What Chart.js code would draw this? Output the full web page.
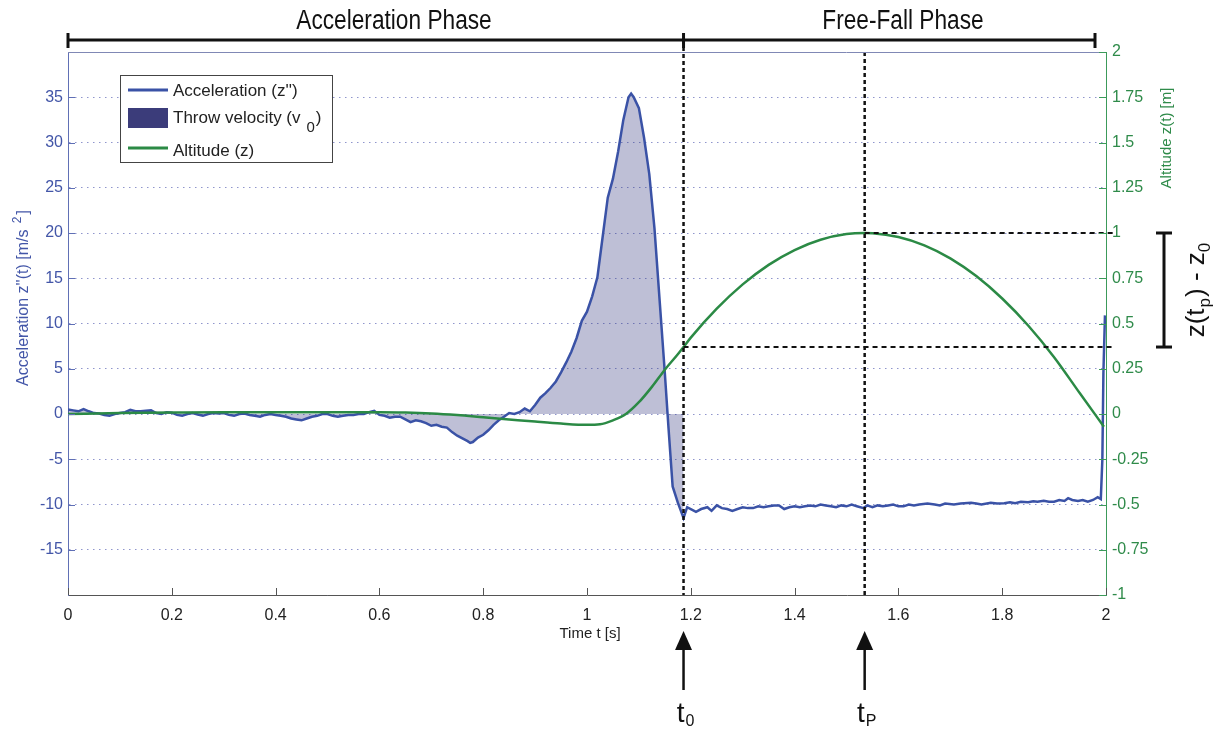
<!DOCTYPE html>
<html><head><meta charset="utf-8">
<script src="https://cdn.jsdelivr.net/npm/chart.js@4.4.0/dist/chart.umd.min.js"></script>
<style>html,body{margin:0;padding:0;background:#fff;}#wrap{position:relative;width:1227px;height:733px;}</style>
</head><body><div id="wrap"><canvas id="c" width="1227" height="733"></canvas></div>
<script>
// ---- data ----
const accT = [0.000,0.010,0.020,0.030,0.040,0.050,0.060,0.070,0.080,0.090,0.100,0.110,0.120,0.130,0.140,0.150,0.160,0.170,0.180,0.190,0.200,0.210,0.220,0.230,0.240,0.250,0.260,0.270,0.280,0.290,0.300,0.310,0.320,0.330,0.340,0.350,0.360,0.370,0.380,0.390,0.400,0.410,0.420,0.430,0.440,0.450,0.460,0.470,0.480,0.490,0.500,0.510,0.520,0.530,0.540,0.550,0.560,0.570,0.580,0.590,0.600,0.610,0.620,0.630,0.640,0.650,0.660,0.670,0.680,0.690,0.700,0.710,0.720,0.730,0.740,0.750,0.760,0.770,0.775,0.780,0.790,0.800,0.810,0.820,0.830,0.840,0.850,0.860,0.870,0.880,0.890,0.900,0.910,0.920,0.930,0.940,0.950,0.960,0.970,0.980,0.990,1.000,1.010,1.020,1.030,1.040,1.050,1.060,1.070,1.080,1.085,1.090,1.100,1.110,1.120,1.130,1.140,1.150,1.157,1.165,1.175,1.186,1.193,1.200,1.210,1.220,1.232,1.240,1.250,1.260,1.270,1.280,1.290,1.300,1.310,1.320,1.330,1.340,1.350,1.360,1.370,1.380,1.390,1.400,1.410,1.420,1.430,1.440,1.450,1.460,1.470,1.480,1.490,1.500,1.510,1.520,1.533,1.540,1.550,1.560,1.570,1.580,1.590,1.600,1.610,1.620,1.630,1.640,1.656,1.670,1.680,1.690,1.707,1.720,1.740,1.750,1.760,1.778,1.790,1.804,1.815,1.825,1.836,1.850,1.860,1.868,1.880,1.890,1.900,1.910,1.920,1.927,1.935,1.946,1.955,1.965,1.975,1.984,1.990,1.993,1.995,1.998];
const accV = [0.5,0.4,0.3,0.55,0.3,0.1,0.05,-0.1,-0.2,0.0,0.1,0.2,0.45,0.3,0.3,0.35,0.4,0.1,0.0,0.2,0.15,-0.1,-0.2,0.0,0.1,-0.05,-0.2,0.0,0.1,0.05,0.1,-0.1,-0.2,0.0,0.05,-0.1,-0.2,-0.3,-0.1,0.0,-0.1,-0.2,-0.3,-0.5,-0.6,-0.7,-0.5,-0.3,-0.2,0.0,0.0,-0.2,-0.3,-0.2,-0.1,-0.1,0.0,0.0,0.2,0.35,-0.1,-0.2,-0.4,-0.3,-0.3,-0.6,-0.9,-0.7,-0.8,-1.0,-1.3,-1.2,-1.4,-1.5,-2.0,-2.4,-2.7,-3.0,-3.2,-3.1,-2.6,-2.3,-1.8,-1.2,-0.7,-0.3,0.1,0.0,0.2,0.6,0.3,1.0,1.8,2.3,2.9,3.6,4.6,5.7,6.9,8.4,10.3,11.3,13.0,15.1,19.5,23.9,26.0,29.0,32.5,35.0,35.4,35.0,33.8,30.5,26.5,20.5,12.5,4.5,-1.5,-8.0,-9.8,-11.5,-10.3,-10.5,-10.8,-10.5,-10.3,-10.7,-10.1,-10.4,-10.5,-10.7,-10.5,-10.3,-10.4,-10.4,-10.2,-10.3,-10.2,-10.1,-10.1,-10.5,-10.3,-10.2,-10.3,-10.2,-10.1,-10.2,-10.0,-10.1,-10.2,-10.3,-10.1,-10.2,-10.0,-10.2,-10.4,-10.1,-10.3,-10.1,-10.2,-10.1,-10.0,-10.2,-10.2,-10.0,-10.1,-10.0,-9.9,-10.0,-10.1,-9.9,-10.0,-9.9,-9.8,-9.9,-10.0,-9.8,-9.9,-9.85,-9.75,-9.85,-9.7,-9.75,-9.65,-9.7,-9.6,-9.7,-9.7,-9.5,-9.6,-9.3,-9.5,-9.6,-9.5,-9.7,-9.5,-9.2,-9.4,-5.0,4.5,10.9];
const altT = [0,0.1,0.2,0.3,0.4,0.5,0.6,0.65,0.7,0.75,0.8,0.85,0.9,0.95,1.0,1.025,1.05,1.075,1.1,1.125,1.15,1.175,1.186,1.2,1.25,1.3,1.35,1.4,1.45,1.5,1.535,1.55,1.6,1.65,1.7,1.75,1.8,1.85,1.9,1.95,1.996];
const altV = [0,0.005,0.008,0.01,0.01,0.01,0.01,0.008,0.003,-0.006,-0.018,-0.03,-0.042,-0.053,-0.06,-0.057,-0.035,0.0,0.065,0.15,0.245,0.33,0.37,0.422,0.582,0.716,0.824,0.906,0.963,0.994,1.0,0.999,0.978,0.932,0.86,0.762,0.638,0.489,0.314,0.113,-0.07];
const markerT = [1.186, 1.535];      // t0, tP
const markerZ = [0.37, 1.0];         // z0, z(tP)
const phaseLabels = ['Acceleration Phase', 'Free-Fall Phase'];
const legendLabels = ["Acceleration (z'')", 'Throw velocity (v', 'Altitude (z)'];

const C_ACC = '#3a52a6', C_ALT = '#2b8a45', C_LBLUE = '#4356a8', C_LGREEN = '#2f8b4a';
const SANS = '"Liberation Sans", Arial, sans-serif';

const accPts = accT.map((t, i) => ({x: t, y: accV[i]}));
const fillPts = accPts.filter(p => p.x <= markerT[0] + 1e-9);
const altPts = altT.map((t, i) => ({x: t, y: altV[i]}));

function ln(ctx, x1, y1, x2, y2) { ctx.beginPath(); ctx.moveTo(x1, y1); ctx.lineTo(x2, y2); ctx.stroke(); }
function rich(ctx, parts, x, y, align) {
  let w = 0;
  parts.forEach(p => { ctx.font = p.font; p.w = ctx.measureText(p.t).width; w += p.w + (p.gap || 0); });
  let cx = align === 'left' ? x : x - w / 2;
  ctx.textBaseline = 'alphabetic'; ctx.textAlign = 'left';
  parts.forEach(p => { ctx.font = p.font; cx += (p.gap || 0); ctx.fillText(p.t, cx, y + (p.dy || 0)); cx += p.w; });
}
function narrowText(ctx, txt, cx, cy, size, sx) {
  ctx.save(); ctx.translate(cx, cy); ctx.scale(sx, 1);
  ctx.font = size + 'px ' + SANS; ctx.textAlign = 'center'; ctx.textBaseline = 'middle';
  ctx.fillText(txt, 0, 0); ctx.restore();
}

const decor = {
  id: 'decor',
  afterDatasetsDraw(chart) {
    const {ctx, chartArea: ca, scales: {x, yZ}} = chart;
    const xt0 = x.getPixelForValue(markerT[0]), xtp = x.getPixelForValue(markerT[1]);
    ctx.save();
    ctx.strokeStyle = '#111'; ctx.lineWidth = 2.5; ctx.setLineDash([4, 3]);
    ln(ctx, xt0, 40, xt0, ca.bottom);
    ln(ctx, xtp, ca.top, xtp, ca.bottom);
    ctx.lineWidth = 2; ctx.setLineDash([5, 4]);
    const y1 = yZ.getPixelForValue(markerZ[1]), y0 = yZ.getPixelForValue(markerZ[0]);
    ln(ctx, xtp, y1, ca.right + 8, y1);
    ln(ctx, xt0, y0, ca.right + 8, y0);
    ctx.restore();
  },
  afterDraw(chart) {
    const {ctx, chartArea: ca, scales: {x, yA, yZ}} = chart;
    const xt0 = x.getPixelForValue(markerT[0]), xtp = x.getPixelForValue(markerT[1]);
    ctx.save();
    // top frame
    ctx.strokeStyle = '#8088b5'; ctx.lineWidth = 1;
    ln(ctx, ca.left, ca.top + 0.5, ca.right, ca.top + 0.5);
    // inward tick marks
    ctx.strokeStyle = '#5f6fb5';
    yA.ticks.forEach(t => { if (t.value > -20 && t.value < 40) { const y = Math.round(yA.getPixelForValue(t.value)) + 0.5; ln(ctx, ca.left, y, ca.left + 7, y); } });
    ctx.strokeStyle = '#3c9a5a';
    yZ.ticks.forEach(t => { const y = Math.round(yZ.getPixelForValue(t.value)) + 0.5; ln(ctx, ca.right - 7, y, ca.right, y); });
    ctx.strokeStyle = '#555';
    x.ticks.forEach(t => { const xx = Math.round(x.getPixelForValue(t.value)) + 0.5; ln(ctx, xx, ca.bottom, xx, ca.bottom - 7); });

    // phase bar
    ctx.strokeStyle = '#111'; ctx.lineWidth = 3;
    const xEnd = ca.right - 11;
    ln(ctx, ca.left, 40, xEnd, 40);
    [ca.left, xt0, xEnd].forEach(xx => ln(ctx, xx, 33, xx, 48));
    ctx.fillStyle = '#111';
    narrowText(ctx, phaseLabels[0], 394, 22, 27, 0.84);
    narrowText(ctx, phaseLabels[1], 903, 22, 27, 0.84);

    // bracket for z(tp) - z0
    const y1 = yZ.getPixelForValue(markerZ[1]), y0 = yZ.getPixelForValue(markerZ[0]);
    ctx.lineWidth = 3;
    ln(ctx, 1164, y1, 1164, y0);
    ln(ctx, 1156, y1, 1172, y1); ln(ctx, 1156, y0, 1172, y0);
    ctx.save();
    ctx.translate(1204, (y0 + y1) / 2); ctx.rotate(-Math.PI / 2);
    rich(ctx, [{t: 'z(t', font: '26px ' + SANS}, {t: 'p', font: '17px ' + SANS, dy: 6, gap: 1}, {t: ') - z', font: '26px ' + SANS, gap: 1}, {t: '0', font: '17px ' + SANS, dy: 6}], 0, 0, 'center');
    ctx.restore();

    // arrows
    [xt0, xtp].forEach((xx, i) => {
      ctx.lineWidth = 2.5; ctx.strokeStyle = '#111';
      ln(ctx, xx, 690, xx, 646);
      ctx.beginPath(); ctx.moveTo(xx, 631); ctx.lineTo(xx - 8.5, 650); ctx.lineTo(xx + 8.5, 650); ctx.closePath(); ctx.fill();
      rich(ctx, [{t: 't', font: '28px ' + SANS}, {t: i === 0 ? '0' : 'P', font: '16px ' + SANS, dy: 4, gap: 1}], xx + 2, 722, 'center');
    });

    // axis titles
    ctx.fillStyle = C_LBLUE;
    ctx.save(); ctx.translate(28, 298); ctx.rotate(-Math.PI / 2);
    rich(ctx, [{t: "Acceleration z''(t) [m/s ", font: '16px ' + SANS}, {t: '2', font: '12px ' + SANS, dy: -7, gap: 2}, {t: ']', font: '16px ' + SANS, gap: 2}], 0, 0, 'center');
    ctx.restore();
    ctx.fillStyle = C_LGREEN;
    ctx.save(); ctx.translate(1171, 138); ctx.rotate(-Math.PI / 2);
    rich(ctx, [{t: 'Altitude z(t) [m]', font: '15px ' + SANS}], 0, 0, 'center');
    ctx.restore();
    ctx.fillStyle = '#222'; ctx.font = '15px ' + SANS; ctx.textAlign = 'center'; ctx.textBaseline = 'middle';
    ctx.fillText('Time t [s]', 590, 634);

    // legend
    ctx.fillStyle = '#fff'; ctx.fillRect(120, 75, 212, 87);
    ctx.strokeStyle = '#444'; ctx.lineWidth = 1; ctx.strokeRect(120.5, 75.5, 212, 87);
    ctx.lineWidth = 3; ctx.strokeStyle = C_ACC; ln(ctx, 128, 90, 168, 90);
    ctx.fillStyle = '#3b3c7a'; ctx.fillRect(128, 108, 40, 20);
    ctx.strokeStyle = C_ALT; ln(ctx, 128, 148, 168, 148);
    ctx.fillStyle = '#222';
    rich(ctx, [{t: legendLabels[0], font: '17px ' + SANS}], 173, 96, 'left');
    rich(ctx, [{t: legendLabels[1], font: '17px ' + SANS}, {t: '0', font: '15px ' + SANS, dy: 9, gap: 6}, {t: ')', font: '17px ' + SANS, gap: 1}], 173, 123, 'left');
    rich(ctx, [{t: legendLabels[2], font: '17px ' + SANS}], 173, 156, 'left');
    ctx.restore();
  }
};

new Chart(document.getElementById('c'), {
  type: 'line',
  data: {datasets: [
    {label: 'Altitude (z)', data: altPts, yAxisID: 'yZ', borderColor: C_ALT, borderWidth: 2.5, pointRadius: 0, cubicInterpolationMode: 'monotone', fill: false, order: 0},
    {label: "Acceleration (z'')", data: accPts, yAxisID: 'yA', borderColor: C_ACC, borderWidth: 2.5, pointRadius: 0, tension: 0, fill: false, order: 1},
    {label: 'Throw velocity (v0)', data: fillPts, yAxisID: 'yA', borderWidth: 0, borderColor: 'rgba(0,0,0,0)', backgroundColor: 'rgba(40,42,120,0.3)', pointRadius: 0, tension: 0, fill: 'origin', order: 2}
  ]},
  options: {
    responsive: false, animation: false, events: [],
    layout: {padding: {top: 52, left: 0, right: 0, bottom: 0}},
    plugins: {legend: {display: false}, tooltip: {enabled: false}},
    scales: {
      x: {type: 'linear', min: 0, max: 2,
          ticks: {stepSize: 0.2, color: '#222', font: {size: 16, family: SANS}, padding: 11, maxRotation: 0, autoSkip: false,
                  callback: v => String(+Number(v).toFixed(2))},
          grid: {display: false, drawTicks: false}, border: {color: '#555', width: 1},
          afterFit(s) { s.height = 138; }},
      yA: {type: 'linear', position: 'left', min: -20, max: 40,
          ticks: {stepSize: 5, color: C_LBLUE, font: {size: 16, family: SANS}, padding: 5, callback: v => (v === 40 || v === -20) ? '' : String(v)},
          grid: {color: '#8f95cc', lineWidth: 1, drawTicks: false}, border: {color: '#6170b5', width: 1, dash: [1.5, 4.5]},
          afterFit(s) { s.width = 68; }},
      yZ: {type: 'linear', position: 'right', min: -1, max: 2,
          ticks: {stepSize: 0.25, color: C_LGREEN, font: {size: 16, family: SANS}, padding: 6,
                  callback: v => String(+Number(v).toFixed(2))},
          grid: {display: false, drawTicks: false}, border: {color: '#3c9a5a', width: 1},
          afterFit(s) { s.width = 121; }}
    }
  },
  plugins: [decor]
});
</script></body></html>
